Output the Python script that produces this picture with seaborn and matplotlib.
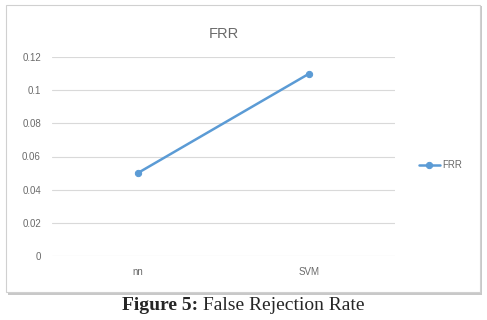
import matplotlib
matplotlib.use("Agg")
import matplotlib.pyplot as plt
import seaborn as sns
import pandas as pd
from matplotlib.patches import Rectangle

# data
methods = ["nn", "SVM"]
frr = [0.05, 0.11]
y_ticks = [0, 0.02, 0.04, 0.06, 0.08, 0.1, 0.12]
y_labels = ["0", "0.02", "0.04", "0.06", "0.08", "0.1", "0.12"]

df = pd.DataFrame({"Method": methods, "FRR": frr})

sns.set_style("white")
plt.rcParams["font.family"] = ["Liberation Sans", "DejaVu Sans"]

fig = plt.figure(figsize=(4.87, 3.2), dpi=100)
fig.patch.set_facecolor("white")

# chart frame with a soft shadow
shadow = Rectangle((8 / 487, 1 - 295 / 320), 474 / 487, 289 / 320,
                   transform=fig.transFigure, facecolor="#c8c8c8",
                   edgecolor="none", zorder=0)
frame = Rectangle((6 / 487, 1 - 292 / 320), 474 / 487, 287 / 320,
                  transform=fig.transFigure, facecolor="white",
                  edgecolor="#d0d0d0", linewidth=0.8, zorder=1)
fig.patches.extend([shadow, frame])

ax = fig.add_axes([52 / 487, 64 / 320, 343 / 487, 199 / 320])
ax.set_facecolor("none")
ax.set_zorder(2)

sns.lineplot(data=df, x="Method", y="FRR", marker="o", color="#5B9BD5",
             linewidth=1.8, markersize=4.5, markeredgecolor="#5B9BD5",
             label="FRR", ax=ax)

ax.set_xlim(-0.5, 1.5)
ax.set_ylim(0, 0.12)
ax.set_yticks(y_ticks)
ax.set_yticklabels(y_labels)
ax.grid(axis="y", color="#d9d9d9", linewidth=0.8)
ax.set_axisbelow(True)
sns.despine(ax=ax, left=True, bottom=True)
ax.tick_params(length=0, labelsize=7, colors="#6a6a6a", pad=8)
ax.set_xlabel("")
ax.set_ylabel("")

ax.set_title("FRR", fontsize=10.5, color="#6a6a6a", pad=14)

leg = ax.legend(loc="center left", bbox_to_anchor=(410 / 487, 1 - 165 / 320),
                bbox_transform=fig.transFigure, frameon=False, fontsize=7,
                handlelength=2.2, handletextpad=0.2, labelcolor="#6a6a6a")

# caption: bold label + regular text, centred together
serif = ["Liberation Serif", "DejaVu Serif"]
cap_y = 1 - 306 / 320
t1 = fig.text(0, cap_y, "Figure 5:", ha="left", va="center", fontsize=14,
              fontweight="bold", family=serif)
t2 = fig.text(0, cap_y, " False Rejection Rate", ha="left", va="center",
              fontsize=14, family=serif)
r = fig.canvas.get_renderer()
w1 = t1.get_window_extent(r).width / fig.bbox.width
w2 = t2.get_window_extent(r).width / fig.bbox.width
x0 = 0.5 - (w1 + w2) / 2
t1.set_x(x0)
t2.set_x(x0 + w1)

fig.savefig("out.png", dpi=100, facecolor="white")
